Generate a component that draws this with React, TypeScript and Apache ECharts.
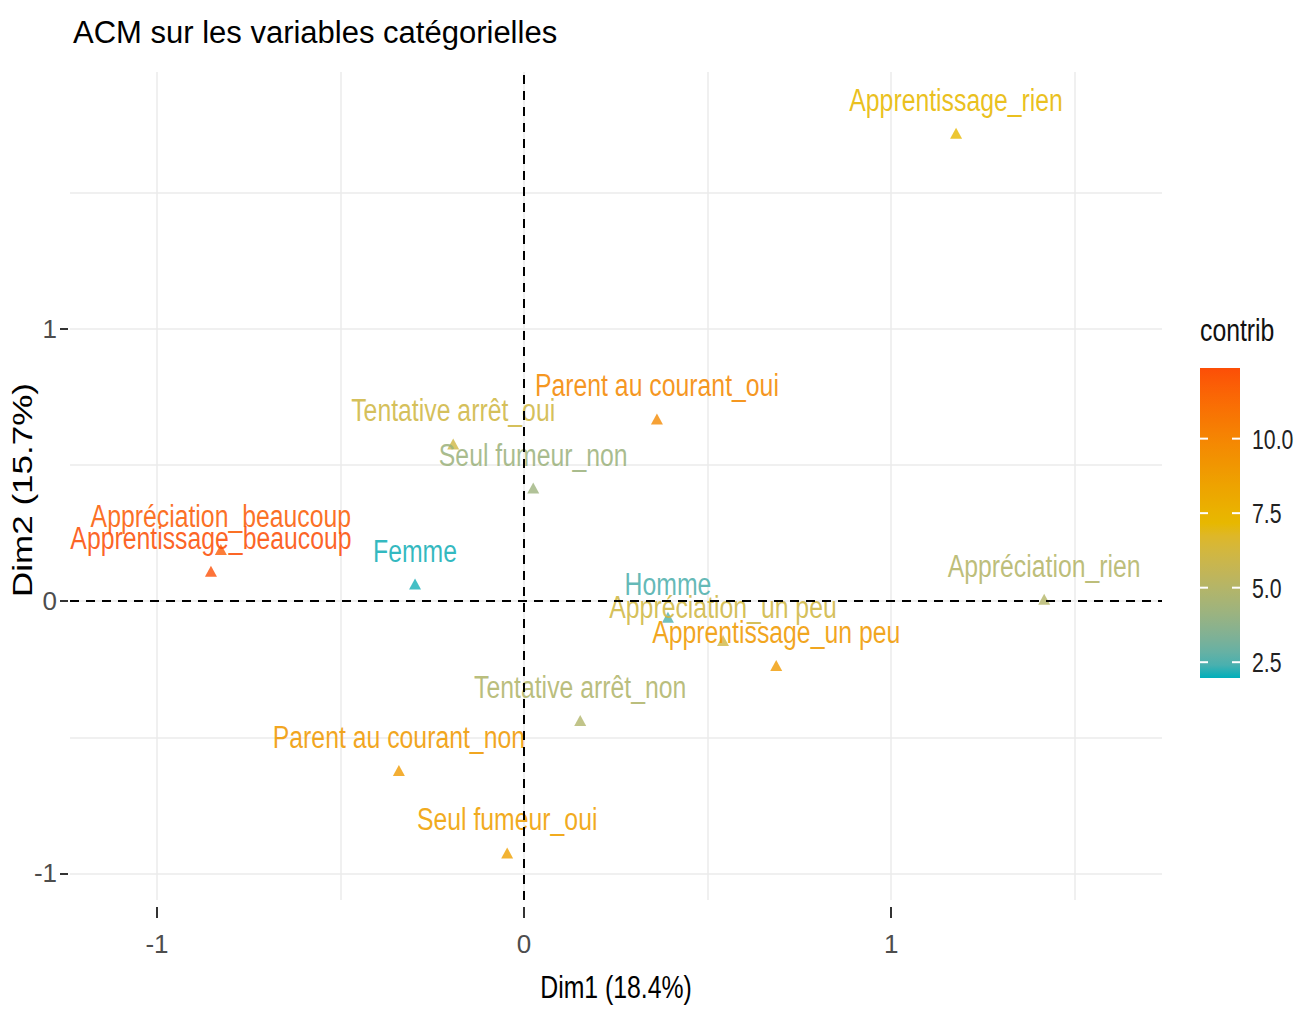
import React, { useEffect, useRef } from "react";
import * as echarts from "echarts";

const categories = [
  "Apprentissage_rien",
  "Parent au courant_oui",
  "Tentative arrêt_oui",
  "Seul fumeur_non",
  "Appréciation_beaucoup",
  "Apprentissage_beaucoup",
  "Femme",
  "Appréciation_rien",
  "Homme",
  "Appréciation_un peu",
  "Apprentissage_un peu",
  "Tentative arrêt_non",
  "Parent au courant_non",
  "Seul fumeur_oui",
];
const dim1 = [1.177, 0.362, -0.193, 0.025, -0.826, -0.853, -0.297, 1.417, 0.392, 0.542, 0.687, 0.153, -0.341, -0.046];
const dim2 = [1.72, 0.67, 0.578, 0.416, 0.19, 0.11, 0.063, 0.007, -0.059, -0.144, -0.236, -0.438, -0.622, -0.925];
const contrib = [7.2, 9.8, 6.1, 4.2, 11.8, 12.3, 2.1, 5.0, 2.5, 6.1, 8.9, 4.9, 8.9, 8.6];

const xTickValues = [-1, 0, 1];
const yTickValues = [-1, 0, 1];
const xGridValues = [-1, -0.5, 0, 0.5, 1, 1.5];
const yGridValues = [-1, -0.5, 0, 0.5, 1, 1.5];
const legendTickValues = [2.5, 5.0, 7.5, 10.0];
const X_MIN = -1.237;
const X_MAX = 1.738;
const Y_MIN = -1.098;
const Y_MAX = 1.945;
const CONTRIB_MIN = 1.97;
const CONTRIB_MAX = 12.37;
const anchorColors = ["#00AFBB", "#E7B800", "#FC4E07"];

const FONT = "'Liberation Sans', Arial, sans-serif";
const SQUEEZE = 0.8;

// ---- Lab colour interpolation (as ggplot's gradient scales do) ----
function srgbToLin(c: number) {
  c /= 255;
  return c <= 0.04045 ? c / 12.92 : Math.pow((c + 0.055) / 1.055, 2.4);
}
function linToSrgb(c: number) {
  const v = c <= 0.0031308 ? 12.92 * c : 1.055 * Math.pow(c, 1 / 2.4) - 0.055;
  return Math.round(Math.max(0, Math.min(1, v)) * 255);
}
function hexToLab(hex: string) {
  const r = srgbToLin(parseInt(hex.slice(1, 3), 16));
  const g = srgbToLin(parseInt(hex.slice(3, 5), 16));
  const b = srgbToLin(parseInt(hex.slice(5, 7), 16));
  const X = (r * 0.4124 + g * 0.3576 + b * 0.1805) / 0.95047;
  const Y = r * 0.2126 + g * 0.7152 + b * 0.0722;
  const Z = (r * 0.0193 + g * 0.1192 + b * 0.9505) / 1.08883;
  const f = (t: number) => (t > 0.008856 ? Math.cbrt(t) : 7.787 * t + 16 / 116);
  const fx = f(X), fy = f(Y), fz = f(Z);
  return [116 * fy - 16, 500 * (fx - fy), 200 * (fy - fz)];
}
function labToHex(lab: number[]) {
  const [L, a, bb] = lab;
  const fy = (L + 16) / 116;
  const fx = fy + a / 500;
  const fz = fy - bb / 200;
  const finv = (t: number) => (t * t * t > 0.008856 ? t * t * t : (t - 16 / 116) / 7.787);
  const X = finv(fx) * 0.95047, Y = finv(fy), Z = finv(fz) * 1.08883;
  const r = 3.2406 * X - 1.5372 * Y - 0.4986 * Z;
  const g = -0.9689 * X + 1.8758 * Y + 0.0415 * Z;
  const b = 0.0557 * X - 0.204 * Y + 1.057 * Z;
  const h = (v: number) => linToSrgb(v).toString(16).padStart(2, "0");
  return "#" + h(r) + h(g) + h(b);
}
function buildRamp(anchors: string[], n: number) {
  const labs = anchors.map(hexToLab);
  const out: string[] = [];
  for (let i = 0; i < n; i++) {
    const t = (i / (n - 1)) * (labs.length - 1);
    const k = Math.min(labs.length - 2, Math.floor(t));
    const u = t - k;
    out.push(labToHex(labs[k].map((v, j) => v + (labs[k + 1][j] - v) * u)));
  }
  return out;
}
const ramp = buildRamp(anchorColors, 25);

export default function App() {
  const ref = useRef<HTMLDivElement>(null);
  useEffect(() => {
    document.body.style.margin = "0";
    const chart = echarts.init(ref.current!, null, { renderer: "svg" });

    const barX = 1200;
    const barY = 368;
    const barW = 40;
    const barH = 310;
    const valToY = (v: number) => barY + barH - ((v - CONTRIB_MIN) / (CONTRIB_MAX - CONTRIB_MIN)) * barH;

    const graphics: any[] = [
      {
        type: "text",
        x: 1200,
        y: 331,
        scaleX: SQUEEZE,
        style: { text: "contrib", font: `31px ${FONT}`, fill: "#111", verticalAlign: "middle" },
      },
      {
        type: "rect",
        shape: { x: barX, y: barY, width: barW, height: barH },
        style: {
          fill: new echarts.graphic.LinearGradient(
            0,
            0,
            0,
            1,
            ramp
              .slice()
              .reverse()
              .map((c, i) => ({ offset: i / (ramp.length - 1), color: c }))
          ),
        },
      },
      {
        type: "text",
        x: 616,
        y: 988,
        scaleX: SQUEEZE,
        style: { text: "Dim1 (18.4%)", font: `31px ${FONT}`, fill: "#000", align: "center", verticalAlign: "middle" },
      },
      {
        type: "text",
        x: 22,
        y: 490,
        rotation: Math.PI / 2,
        scaleY: SQUEEZE,
        style: { text: "Dim2 (15.7%)", font: `35px ${FONT}`, fill: "#000", align: "center", verticalAlign: "middle" },
      },
    ];
    legendTickValues.forEach((v) => {
      const y = valToY(v);
      graphics.push(
        { type: "line", shape: { x1: barX, y1: y, x2: barX + 8, y2: y }, style: { stroke: "#fff", lineWidth: 2 } },
        { type: "line", shape: { x1: barX + barW - 8, y1: y, x2: barX + barW, y2: y }, style: { stroke: "#fff", lineWidth: 2 } },
        {
          type: "text",
          x: barX + barW + 12,
          y,
          scaleX: 0.76,
          style: { text: v.toFixed(1), font: `28px ${FONT}`, fill: "#222", verticalAlign: "middle" },
        }
      );
    });

    const option: any = {
      animation: false,
      backgroundColor: "#fff",
      title: {
        text: "ACM sur les variables catégorielles",
        left: 68,
        top: 12,
        textStyle: { fontFamily: FONT, fontSize: 31, fontWeight: "normal", color: "#000" },
      },
      grid: { left: 70, right: 148, top: 72, bottom: 109, containLabel: false, outerBoundsMode: "none" },
      visualMap: {
        type: "continuous",
        show: false,
        min: CONTRIB_MIN,
        max: CONTRIB_MAX,
        dimension: 2,
        seriesIndex: [0, 1],
        inRange: { color: ramp },
      },
      xAxis: [
        {
          type: "value",
          min: X_MIN,
          max: X_MAX,
          axisLine: { show: false, onZero: false },
          axisTick: { show: false, customValues: xGridValues },
          axisLabel: { show: false },
          splitLine: { show: true, lineStyle: { color: "#ebebeb", width: 1.5 } },
        },
        {
          type: "value",
          min: X_MIN,
          max: X_MAX,
          position: "bottom",
          offset: 7,
          axisLine: { show: false, onZero: false },
          axisTick: { show: true, customValues: xTickValues, length: 11, lineStyle: { color: "#333", width: 2 } },
          axisLabel: {
            show: true,
            customValues: xTickValues,
            margin: 24,
            fontFamily: FONT,
            fontSize: 26,
            color: "#4d4d4d",
          },
          splitLine: { show: false },
        },
      ],
      yAxis: [
        {
          type: "value",
          min: Y_MIN,
          max: Y_MAX,
          axisLine: { show: false, onZero: false },
          axisTick: { show: false, customValues: yGridValues },
          axisLabel: { show: false },
          splitLine: { show: true, lineStyle: { color: "#ebebeb", width: 1.5 } },
        },
        {
          type: "value",
          min: Y_MIN,
          max: Y_MAX,
          position: "left",
          offset: 2,
          axisLine: { show: false, onZero: false },
          axisTick: { show: true, customValues: yTickValues, length: 8, lineStyle: { color: "#333", width: 2 } },
          axisLabel: {
            show: true,
            customValues: yTickValues,
            margin: 11,
            fontFamily: FONT,
            fontSize: 26,
            color: "#4d4d4d",
          },
          splitLine: { show: false },
        },
      ],
      series: [
        {
          type: "scatter",
          xAxisIndex: 0,
          yAxisIndex: 0,
          symbol: "triangle",
          symbolSize: [12, 11],
          data: categories.map((c, i) => ({ name: c, value: [dim1[i], dim2[i], contrib[i]] })),
          markLine: {
            silent: true,
            symbol: "none",
            label: { show: false },
            lineStyle: { type: [9, 7], color: "#000", width: 2 },
            data: [{ xAxis: 0 }, { yAxis: 0 }],
          },
          z: 3,
        },
        {
          type: "custom",
          xAxisIndex: 0,
          yAxisIndex: 0,
          data: categories.map((c, i) => ({ name: c, value: [dim1[i], dim2[i], contrib[i]] })),
          renderItem: (params: any, api: any) => {
            const p = api.coord([api.value(0), api.value(1)]);
            const color = api.visual("color");
            return {
              type: "text",
              x: p[0],
              y: p[1] - 33,
              scaleX: SQUEEZE,
              style: {
                text: categories[params.dataIndex],
                font: `31px ${FONT}`,
                fill: color,
                opacity: 0.88,
                align: "center",
                verticalAlign: "middle",
              },
            };
          },
          z: 4,
        },
      ],
      graphic: graphics,
    };
    chart.setOption(option);
    return () => chart.dispose();
  }, []);
  return <div ref={ref} style={{ width: 1310, height: 1009 }} />;
}
